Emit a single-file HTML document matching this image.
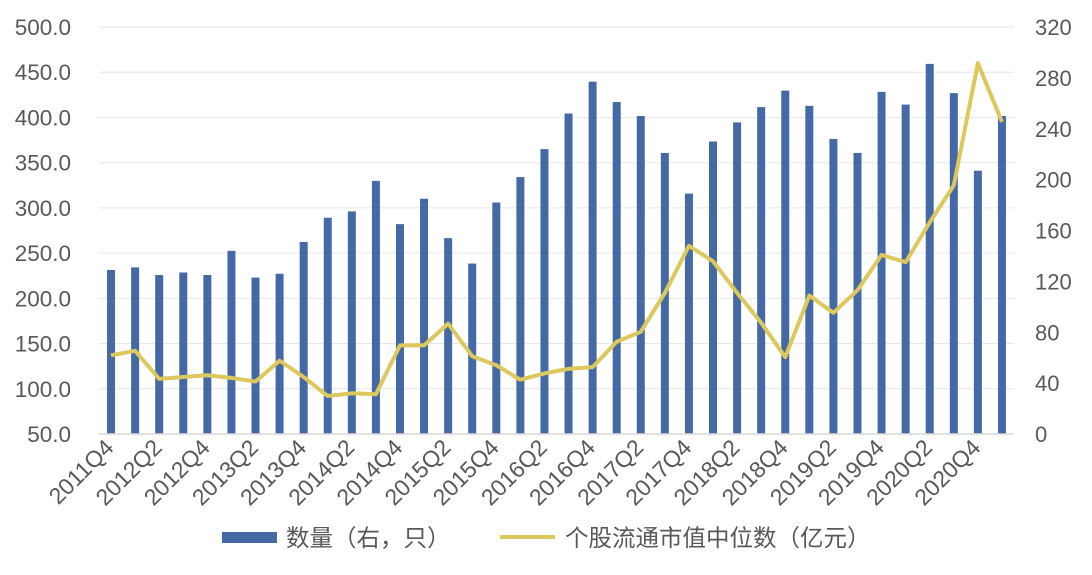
<!DOCTYPE html>
<html><head><meta charset="utf-8"><style>
body{margin:0;background:#fff;}
svg text{font-family:"Liberation Sans","Noto Sans CJK SC",sans-serif;fill:#595959;}
</style></head><body>
<svg id="chart" width="1092" height="570" xmlns="http://www.w3.org/2000/svg"></svg>
<script>
const categories=["2011Q4","2012Q1","2012Q2","2012Q3","2012Q4","2013Q1","2013Q2","2013Q3","2013Q4","2014Q1","2014Q2","2014Q3","2014Q4","2015Q1","2015Q2","2015Q3","2015Q4","2016Q1","2016Q2","2016Q3","2016Q4","2017Q1","2017Q2","2017Q3","2017Q4","2018Q1","2018Q2","2018Q3","2018Q4","2019Q1","2019Q2","2019Q3","2019Q4","2020Q1","2020Q2","2020Q3","2020Q4","2021Q1"];
const countValues=[129,131,125,127,125,144,123,126,151,170,175,199,165,185,154,134,182,202,224,252,277,261,250,221,189,230,245,257,270,258,232,221,269,259,291,268,207,250];
const capValues=[137,142,111,113,115,112,108,131,113,92,95,94,148,148,172,136,126,110,117,122,124,152,163,206,258,241,206,173,135,203,184,209,248,240,284,325,460,395];
const leftTicks=[50,100,150,200,250,300,350,400,450,500];
const rightTicks=[0,40,80,120,160,200,240,280,320];
const NS="http://www.w3.org/2000/svg";
const svg=document.getElementById('chart');
const X0=99,X1=1014,Y0=434,Y1=27;
const step=(X1-X0)/categories.length;
const xc=i=>X0+step*(i+0.5);
const yL=v=>Y0-(v-50)/450*(Y0-Y1);
const yR=v=>Y0-v/320*(Y0-Y1);
function mk(tag,attrs){const e=document.createElementNS(NS,tag);for(const k in attrs)e.setAttribute(k,attrs[k]);svg.appendChild(e);return e;}
leftTicks.forEach(v=>{
  const y=yL(v);
  if(v!==50){const g=mk('line',{x1:X0,x2:X1,y1:y,y2:y,stroke:'#e6e6e6','stroke-width':1});
  
  }
  const t=mk('text',{x:71,y:y+8,'text-anchor':'end','font-size':22.5});t.textContent=v.toFixed(1);
  
  
});
rightTicks.forEach(v=>{
  const t=mk('text',{x:1035,y:yR(v)+8,'font-size':22});t.textContent=v;
  
  
});
countValues.forEach((v,i)=>{
  const r=mk('rect',{x:xc(i)-4,y:yR(v),width:8,height:Y0-yR(v),fill:'#4569a5'});
  
  
});
const ax=mk('line',{x1:X0,x2:X1,y1:Y0,y2:Y0,stroke:'#d9d9d9','stroke-width':1.5});


const pl=mk('polyline',{points:capValues.map((v,i)=>xc(i)+','+yL(v)).join(' '),fill:'none',stroke:'#dcc85c','stroke-width':4,'stroke-linejoin':'round'});


categories.forEach((c,i)=>{
  if(i%2)return;
  const x=xc(i)+4,y=449;
  const t=mk('text',{x:x,y:y,'text-anchor':'end','font-size':23,transform:`rotate(-45 ${x} ${y})`});t.textContent=c;
  
  
});
const s1=mk('rect',{x:222,y:532,width:55,height:11,fill:'#4569a5'});


const l1=mk('text',{x:286,y:546,'font-size':23.5});l1.textContent='数量（右，只）';


const s2=mk('line',{x1:500,x2:555,y1:537,y2:537,stroke:'#dcc85c','stroke-width':4});


const l2=mk('text',{x:565,y:546,'font-size':23.5});l2.textContent='个股流通市值中位数（亿元）';


</script>
</body></html>
